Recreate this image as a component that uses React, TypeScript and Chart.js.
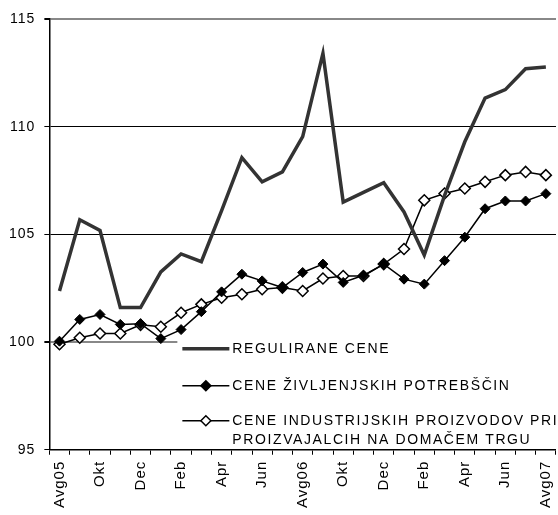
import React, { useEffect, useRef } from "react";
import { Chart, registerables } from "chart.js";
Chart.register(...registerables);

const months = [
  "Avg05", "Sep", "Okt", "Nov", "Dec", "Jan", "Feb", "Mar", "Apr", "Maj", "Jun", "Jul",
  "Avg06", "Sep", "Okt", "Nov", "Dec", "Jan", "Feb", "Mar", "Apr", "Maj", "Jun", "Jul", "Avg07",
];

const regulirane = [
  102.37, 105.68, 105.18, 101.6, 101.6, 103.26, 104.09, 103.73, 106.1, 108.56, 107.44, 107.9,
  109.54, 113.4, 106.5, 106.95, 107.4, 106.04, 104.04, 106.8, 109.3, 111.33, 111.72, 112.69, 112.77,
];

const zivljenjske = [
  100.04, 101.05, 101.28, 100.82, 100.85, 100.16, 100.58, 101.41, 102.33, 103.15, 102.84, 102.53,
  103.23, 103.62, 102.77, 103.1, 103.62, 102.92, 102.69, 103.78, 104.87, 106.19, 106.55, 106.55, 106.89,
];

const industrijske = [
  99.9, 100.2, 100.4, 100.4, 100.8, 100.71, 101.36, 101.75, 102.06, 102.22, 102.45, 102.53,
  102.37, 102.95, 103.07, 103.07, 103.62, 104.32, 106.58, 106.9, 107.13, 107.44, 107.75, 107.9, 107.75,
];

const yMin = 95;
const yMax = 115;
const yStep = 5;

const legendRegulirane = "REGULIRANE CENE";
const legendZivljenjske = "CENE ŽIVLJENJSKIH POTREBŠČIN";
const legendIndustrijske = ["CENE INDUSTRIJSKIH PROIZVODOV PRI", "PROIZVAJALCIH NA DOMAČEM TRGU"];

const FONT = '"Liberation Sans", Arial, sans-serif';
const REG_COLOR = "#333333";

function diamond(ctx: CanvasRenderingContext2D, x: number, y: number, r: number, filled: boolean) {
  ctx.beginPath();
  ctx.moveTo(x, y - r);
  ctx.lineTo(x + r, y);
  ctx.lineTo(x, y + r);
  ctx.lineTo(x - r, y);
  ctx.closePath();
  ctx.fillStyle = filled ? "#000" : "#fff";
  ctx.fill();
  ctx.lineWidth = 1.5;
  ctx.strokeStyle = "#000";
  ctx.stroke();
}

const spacingPlugin = {
  id: "spacing",
  beforeLayout(chart: any) {
    chart.ctx.letterSpacing = "1px";
  },
  beforeDraw(chart: any) {
    chart.ctx.letterSpacing = "1px";
  },
};

const legendPlugin = {
  id: "customLegend",
  beforeDatasetsDraw(chart: any) {
    const { ctx, chartArea } = chart;
    const x0 = chartArea.left + 128;
    const b = chartArea.bottom;
    ctx.save();
    ctx.fillStyle = "#fff";
    ctx.fillRect(x0, b - 114, chart.width - x0, 112);

    const lx1 = x0 + 5;
    const lx2 = x0 + 52;
    const tx = x0 + 55;
    ctx.font = `14px ${FONT}`;
    ctx.letterSpacing = "1.6px";
    ctx.textBaseline = "middle";
    ctx.textAlign = "left";

    // row 1
    let y = b - 101;
    ctx.strokeStyle = REG_COLOR;
    ctx.lineWidth = 3.5;
    ctx.beginPath();
    ctx.moveTo(lx1, y);
    ctx.lineTo(lx2, y);
    ctx.stroke();
    ctx.fillStyle = "#000";
    ctx.fillText(legendRegulirane, tx, y);

    // row 2
    y = b - 64;
    ctx.strokeStyle = "#000";
    ctx.lineWidth = 1.5;
    ctx.beginPath();
    ctx.moveTo(lx1, y);
    ctx.lineTo(lx2, y);
    ctx.stroke();
    diamond(ctx, (lx1 + lx2) / 2, y, 5, true);
    ctx.fillStyle = "#000";
    ctx.fillText(legendZivljenjske, tx, y);

    // row 3
    y = b - 29;
    ctx.strokeStyle = "#000";
    ctx.lineWidth = 1.5;
    ctx.beginPath();
    ctx.moveTo(lx1, y);
    ctx.lineTo(lx2, y);
    ctx.stroke();
    diamond(ctx, (lx1 + lx2) / 2, y, 5, false);
    ctx.fillStyle = "#000";
    ctx.fillText(legendIndustrijske[0], tx, y);
    ctx.fillText(legendIndustrijske[1], tx, b - 10);
    ctx.restore();
  },
};

export default function App() {
  const ref = useRef<HTMLCanvasElement>(null);
  useEffect(() => {
    if (!ref.current) return;
    const chart = new Chart(ref.current, {
      type: "line",
      data: {
        labels: months,
        datasets: [
          {
            label: legendRegulirane,
            data: regulirane,
            borderColor: REG_COLOR,
            borderWidth: 3.5,
            pointRadius: 0,
            tension: 0,
            fill: false,
          },
          {
            label: legendZivljenjske,
            data: zivljenjske,
            borderColor: "#000",
            borderWidth: 1.5,
            pointStyle: "rectRot",
            pointRadius: 5,
            pointBackgroundColor: "#000",
            pointBorderColor: "#000",
            pointBorderWidth: 1,
            tension: 0,
            fill: false,
          },
          {
            label: legendIndustrijske.join(" "),
            data: industrijske,
            borderColor: "#000",
            borderWidth: 1.5,
            pointStyle: "rectRot",
            pointRadius: 5.5,
            pointBackgroundColor: "#fff",
            pointBorderColor: "#000",
            pointBorderWidth: 1.5,
            tension: 0,
            fill: false,
          },
        ],
      },
      options: {
        responsive: false,
        animation: false,
        devicePixelRatio: 1,
        layout: { padding: { top: 19, left: 0, right: 6, bottom: 1 } },
        plugins: {
          legend: { display: false },
          tooltip: { enabled: false },
          title: { display: false },
        },
        scales: {
          x: {
            type: "category",
            offset: true,
            grid: {
              offset: true,
              drawOnChartArea: false,
              drawTicks: true,
              tickLength: 5,
              color: "#000",
              tickColor: "#000",
              lineWidth: 1,
            },
            border: { display: true, color: "#000", width: 1.5 },
            ticks: {
              autoSkip: false,
              maxRotation: 90,
              minRotation: 90,
              padding: 6,
              color: "#000",
              font: { family: FONT, size: 15 },
              callback: (_v: any, i: number) => (i % 2 === 0 ? months[i] : ""),
            },
          },
          y: {
            min: yMin,
            max: yMax,
            grid: {
              color: (c: any) => (c.tick && (c.tick.value === 100 || c.tick.value === 115) ? "#888" : "#000"),
              lineWidth: (c: any) => (c.tick && (c.tick.value === 100 || c.tick.value === 115) ? 2 : 1),
              tickLength: 5,
              tickColor: "#000",
            },
            border: { display: true, color: "#000", width: 1.5 },
            ticks: {
              stepSize: yStep,
              padding: 9,
              color: "#000",
              font: { family: FONT, size: 14 },
            },
          },
        },
      },
      plugins: [spacingPlugin, legendPlugin],
    });
    return () => chart.destroy();
  }, []);

  return (
    <div style={{ position: "fixed", left: 0, top: 0, width: 558, height: 515, overflow: "hidden", background: "#fff" }}>
      <canvas ref={ref} width={570} height={515} style={{ width: 570, height: 515, display: "block" }} />
    </div>
  );
}
